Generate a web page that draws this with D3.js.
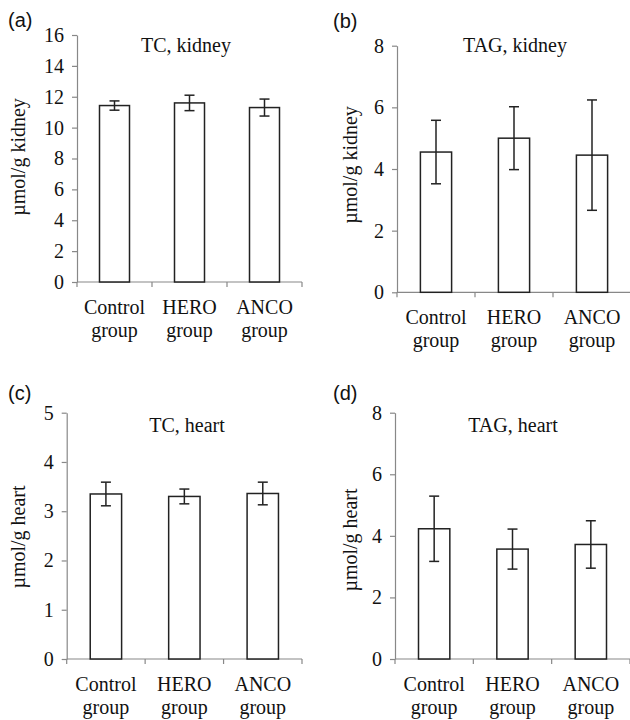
<!DOCTYPE html>
<html>
<head>
<meta charset="utf-8">
<script src="https://cdn.jsdelivr.net/npm/d3@7"></script>
<style>
  body { margin: 0; background: #fff; }
  svg { display: block; }
</style>
</head>
<body>
<div id="chart"></div>
<script>
// groups shown on every panel
const groups = ["Control group", "HERO group", "ANCO group"];

// (a) TC, kidney
const tcKidneyMean = [11.43, 11.6, 11.3];
const tcKidneyErr = [0.3, 0.5, 0.55];
// (b) TAG, kidney
const tagKidneyMean = [4.55, 5.0, 4.45];
const tagKidneyErr = [1.03, 1.02, 1.79];
// (c) TC, heart
const tcHeartMean = [3.35, 3.3, 3.36];
const tcHeartErr = [0.24, 0.15, 0.23];
// (d) TAG, heart
const tagHeartMean = [4.23, 3.57, 3.72];
const tagHeartErr = [1.06, 0.65, 0.77];

const ticksA = [0, 2, 4, 6, 8, 10, 12, 14, 16];
const ticksB = [0, 2, 4, 6, 8];
const ticksC = [0, 1, 2, 3, 4, 5];
const ticksD = [0, 2, 4, 6, 8];

const width = 630, height = 720;
const serif = "'Liberation Serif', 'Times New Roman', serif";
const sans = "'Liberation Sans', Arial, sans-serif";

const svg = d3.select("#chart").append("svg")
    .attr("width", width)
    .attr("height", height);

// panel placement (pixel frame of each plot area)
const panels = [
    {tag: "(a)", title: "TC, kidney", ylabel: "\u00b5mol/g kidney", mean: tcKidneyMean, err: tcKidneyErr,
     ticks: ticksA, left: 77, right: 302, top: 35, bottom: 282, tagX: 8, tagY: 27,
     titleX: 186, titleY: 52, ylabX: 25, ylabY: 157},
    {tag: "(b)", title: "TAG, kidney", ylabel: "\u00b5mol/g kidney", mean: tagKidneyMean, err: tagKidneyErr,
     ticks: ticksB, left: 397, right: 631, top: 45.7, bottom: 292.3, tagX: 333, tagY: 28,
     titleX: 515, titleY: 52, ylabX: 357, ylabY: 165},
    {tag: "(c)", title: "TC, heart", ylabel: "\u00b5mol/g heart", mean: tcHeartMean, err: tcHeartErr,
     ticks: ticksC, left: 66.7, right: 302, top: 412.7, bottom: 659, tagX: 8, tagY: 400,
     titleX: 187, titleY: 432, ylabX: 25, ylabY: 537},
    {tag: "(d)", title: "TAG, heart", ylabel: "\u00b5mol/g heart", mean: tagHeartMean, err: tagHeartErr,
     ticks: ticksD, left: 395, right: 630, top: 412.7, bottom: 659, tagX: 333, tagY: 400,
     titleX: 513, titleY: 432, ylabX: 357, ylabY: 540}
];

panels.forEach(p => {
    const g = svg.append("g");

    const x = d3.scaleBand()
        .domain(groups)
        .range([p.left, p.right]);

    const y = d3.scaleLinear()
        .domain([0, d3.max(p.ticks)])
        .range([p.bottom, p.top]);

    // y axis
    const yAxis = g.append("g")
        .attr("transform", `translate(${p.left},0)`)
        .call(d3.axisLeft(y).tickValues(p.ticks).tickFormat(d3.format("d"))
            .tickSize(5).tickPadding(8).tickSizeOuter(0));
    yAxis.select(".domain").attr("stroke", "#888").attr("stroke-width", 1.2);
    yAxis.selectAll(".tick line").attr("stroke", "#888").attr("stroke-width", 1.2);
    yAxis.selectAll(".tick text")
        .style("font-family", serif).style("font-size", "20px").attr("fill", "#111");

    // x axis: ticks sit on the category boundaries
    const bounds = groups.map(d => x(d)).concat([p.right]);
    const xAxis = g.append("g");
    xAxis.append("line")
        .attr("x1", p.left).attr("x2", p.right)
        .attr("y1", p.bottom).attr("y2", p.bottom)
        .attr("stroke", "#888").attr("stroke-width", 1.2);
    xAxis.selectAll(".bt")
        .data(bounds)
        .join("line")
        .attr("x1", d => d).attr("x2", d => d)
        .attr("y1", p.bottom).attr("y2", p.bottom + 5)
        .attr("stroke", "#888").attr("stroke-width", 1.2);

    // category labels on two lines
    const lab = g.selectAll(".cat")
        .data(groups)
        .join("text")
        .attr("text-anchor", "middle")
        .style("font-family", serif)
        .style("font-size", "20px")
        .attr("fill", "#111");
    lab.append("tspan")
        .attr("x", d => x(d) + x.bandwidth() / 2)
        .attr("y", p.bottom + 32)
        .text(d => d.split(" ")[0]);
    lab.append("tspan")
        .attr("x", d => x(d) + x.bandwidth() / 2)
        .attr("y", p.bottom + 55)
        .text(d => d.split(" ")[1]);

    const data = groups.map((d, i) => ({group: d, mean: p.mean[i], err: p.err[i]}));
    const barW = x.bandwidth() * 0.4;

    // bars
    g.selectAll(".bar")
        .data(data)
        .join("rect")
        .attr("x", d => x(d.group) + (x.bandwidth() - barW) / 2)
        .attr("y", d => y(d.mean))
        .attr("width", barW)
        .attr("height", d => y(0) - y(d.mean))
        .attr("fill", "#fff")
        .attr("stroke", "#222")
        .attr("stroke-width", 1.5);

    // error bars
    const eb = g.selectAll(".err")
        .data(data)
        .join("g")
        .attr("stroke", "#222")
        .attr("stroke-width", 1.5);
    const cx = d => x(d.group) + x.bandwidth() / 2;
    eb.append("line")
        .attr("x1", cx).attr("x2", cx)
        .attr("y1", d => y(d.mean + d.err))
        .attr("y2", d => y(d.mean - d.err));
    eb.append("line")
        .attr("x1", d => cx(d) - 5).attr("x2", d => cx(d) + 5)
        .attr("y1", d => y(d.mean + d.err)).attr("y2", d => y(d.mean + d.err));
    eb.append("line")
        .attr("x1", d => cx(d) - 5).attr("x2", d => cx(d) + 5)
        .attr("y1", d => y(d.mean - d.err)).attr("y2", d => y(d.mean - d.err));

    // title inside plot
    g.append("text")
        .attr("x", p.titleX).attr("y", p.titleY)
        .attr("text-anchor", "middle")
        .style("font-family", serif).style("font-size", "20px").attr("fill", "#111")
        .text(p.title);

    // y label
    g.append("text")
        .attr("transform", `translate(${p.ylabX},${p.ylabY}) rotate(-90)`)
        .attr("text-anchor", "middle")
        .style("font-family", serif).style("font-size", "20px").attr("fill", "#111")
        .text(p.ylabel);

    // panel letter
    g.append("text")
        .attr("x", p.tagX).attr("y", p.tagY)
        .style("font-family", sans).style("font-size", "20px").attr("fill", "#111")
        .text(p.tag);
});
</script>
</body>
</html>
